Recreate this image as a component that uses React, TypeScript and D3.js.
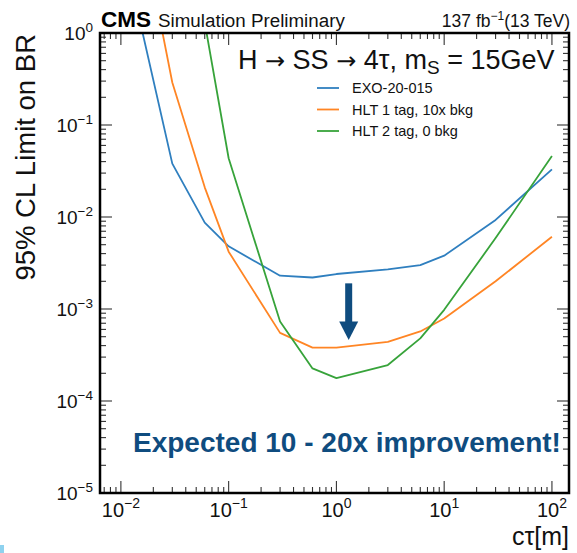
import * as d3 from "d3";
import { useEffect, useRef } from "react";

// c*tau points [m] and expected limits
const ctau = [0.01, 0.03, 0.06, 0.1, 0.3, 0.6, 1, 3, 6, 10, 30, 100];
const exo = [11, 0.038, 0.0087, 0.0048, 0.0023, 0.0022, 0.0024, 0.0027, 0.003, 0.0038, 0.0093, 0.033];
const hlt1 = [200, 0.29, 0.021, 0.0042, 0.00055, 0.00038, 0.00038, 0.00044, 0.00057, 0.00079, 0.002, 0.0061];
const hlt2 = [null, null, 1.3, 0.0435, 0.00073, 0.000226, 0.000177, 0.000246, 0.00048, 0.00098, 0.0059, 0.046];

const seriesNames = ["EXO-20-015", "HLT 1 tag, 10x bkg", "HLT 2 tag, 0 bkg"];
const seriesColors = ["#2f7fbf", "#ff8524", "#37a33a"];
const xExponents = [-2, -1, 0, 1, 2];
const yExponents = [0, -1, -2, -3, -4, -5];

// arrow annotation (ctau, BR)
const arrowAt = [1.3, 0.0019, 0.00046];

const W = 577;
const H = 553;
const margin = { top: 33, right: 8, bottom: 60, left: 100 };
const font = "'Liberation Sans', Arial, Helvetica, sans-serif";

const logTicks = (lo, hi) => {
	const out = [];
	for (let e = Math.floor(Math.log10(lo)); e <= Math.ceil(Math.log10(hi)); e++) {
		for (let k = 1; k <= 9; k++) {
			const v = k * Math.pow(10, e);
			if (v >= lo * 0.999 && v <= hi * 1.001) out.push({ v, major: k === 1 });
		}
	}
	return out;
};

const sup = (n) => (n < 0 ? "\u2212" + Math.abs(n) : String(n));

const App = () => {
	const chartRef = useRef(null);

	useEffect(() => {
		const svg = d3.select(chartRef.current);
		svg.selectAll("*").remove();

		const x = d3.scaleLog().domain([0.0064, 144]).range([margin.left, W - margin.right]);
		const y = d3.scaleLog().domain([1e-5, 1]).range([H - margin.bottom, margin.top]);
		const [x0, x1] = x.range();
		const [y0, y1] = y.range();

		svg.append("rect").attr("width", W).attr("height", H).attr("fill", "#fff");
		svg.append("rect").attr("x", 0).attr("y", 545).attr("width", 4).attr("height", 8).attr("fill", "#8ed2ef");

		svg.append("defs").append("clipPath").attr("id", "plotclip")
			.append("rect").attr("x", x0).attr("y", y1).attr("width", x1 - x0).attr("height", y0 - y1);

		// ticks
		const tg = svg.append("g").attr("stroke", "#333").attr("stroke-width", 1.1);
		logTicks(...x.domain()).forEach(t => {
			const px = x(t.v);
			const len = t.major ? 12 : 6;
			tg.append("line").attr("x1", px).attr("x2", px).attr("y1", y0).attr("y2", y0 - len);
			tg.append("line").attr("x1", px).attr("x2", px).attr("y1", y1).attr("y2", y1 + len);
		});
		logTicks(...y.domain()).forEach(t => {
			const py = y(t.v);
			const len = t.major ? 12 : 6;
			tg.append("line").attr("x1", x0).attr("x2", x0 + len).attr("y1", py).attr("y2", py);
			tg.append("line").attr("x1", x1).attr("x2", x1 - len).attr("y1", py).attr("y2", py);
		});

		// curves
		const line = d3.line()
			.defined(d => d[1] != null)
			.x(d => x(d[0]))
			.y(d => y(d[1]));
		const lines = svg.append("g").attr("clip-path", "url(#plotclip)");
		[exo, hlt1, hlt2].forEach((vals, i) => {
			lines.append("path")
				.datum(ctau.map((c, j) => [c, vals[j]]))
				.attr("d", line)
				.attr("fill", "none")
				.attr("stroke", seriesColors[i])
				.attr("stroke-width", 1.8)
				.attr("stroke-linejoin", "round");
		});

		// frame
		svg.append("rect")
			.attr("x", x0).attr("y", y1).attr("width", x1 - x0).attr("height", y0 - y1)
			.attr("fill", "none").attr("stroke", "#000").attr("stroke-width", 2.5);

		// tick labels
		xExponents.forEach(e => {
			const t = svg.append("text")
				.attr("x", x(Math.pow(10, e))).attr("y", 517)
				.attr("text-anchor", "middle")
				.style("font-family", font).style("font-size", "20px").attr("fill", "#111");
			t.append("tspan").text("10");
			t.append("tspan").attr("dy", -9).style("font-size", "14px").text(sup(e));
		});
		yExponents.forEach(e => {
			const t = svg.append("text")
				.attr("x", 93).attr("y", y(Math.pow(10, e)) + 6.7)
				.attr("text-anchor", "end")
				.style("font-family", font).style("font-size", "19px").attr("fill", "#111");
			t.append("tspan").text("10");
			t.append("tspan").attr("dy", -8).style("font-size", "13.5px").text(sup(e));
		});

		// axis titles
		svg.append("text")
			.attr("x", x1).attr("y", 545)
			.attr("text-anchor", "end")
			.style("font-family", font).style("font-size", "25px").attr("fill", "#111")
			.text("c\u03c4[m]");
		svg.append("text")
			.attr("transform", `translate(35, ${y1 + 1}) rotate(-90)`)
			.attr("text-anchor", "end")
			.style("font-family", font).style("font-size", "27.5px").attr("fill", "#111")
			.text("95% CL Limit on BR");

		// header
		svg.append("text")
			.attr("x", x0 + 1).attr("y", 27)
			.style("font-family", font).style("font-size", "22.5px").style("font-weight", "bold")
			.text("CMS");
		svg.append("text")
			.attr("x", 158).attr("y", 27)
			.style("font-family", font).style("font-size", "18.8px").attr("fill", "#111")
			.text("Simulation Preliminary");
		const lumi = svg.append("text")
			.attr("x", x1 + 1).attr("y", 27)
			.attr("text-anchor", "end")
			.style("font-family", font).style("font-size", "17.5px").attr("fill", "#111");
		lumi.append("tspan").text("137 fb");
		lumi.append("tspan").attr("dy", -7).style("font-size", "12px").text("\u22121");
		lumi.append("tspan").attr("dy", 7).text("(13 TeV)");

		// process title
		const title = svg.append("text")
			.attr("x", 238).attr("y", 68.5)
			.style("font-family", font).style("font-size", "27px").attr("fill", "#111");
		const arrowFont = "'DejaVu Sans', sans-serif";
		title.append("tspan").text("H ");
		title.append("tspan").style("font-family", arrowFont).style("font-size", "24px").text("\u2192");
		title.append("tspan").text(" SS ");
		title.append("tspan").style("font-family", arrowFont).style("font-size", "24px").text("\u2192");
		title.append("tspan").text(" 4\u03c4, m");
		title.append("tspan").attr("dy", 5).style("font-size", "19px").text("S");
		title.append("tspan").attr("dy", -5).text(" = 15GeV");

		// legend
		seriesNames.forEach((name, i) => {
			const ly = 88 + i * 21.5;
			svg.append("line")
				.attr("x1", 317).attr("x2", 339).attr("y1", ly).attr("y2", ly)
				.attr("stroke", seriesColors[i]).attr("stroke-width", 1.8);
			svg.append("text")
				.attr("x", 352).attr("y", ly + 5)
				.style("font-family", font).style("font-size", "14.5px").attr("fill", "#111")
				.text(name);
		});

		// arrow
		const ax = x(arrowAt[0]);
		const aTop = y(arrowAt[1]);
		const aTip = y(arrowAt[2]);
		const headH = 18.5;
		svg.append("rect")
			.attr("x", ax - 3.5).attr("y", aTop).attr("width", 7).attr("height", aTip - aTop - headH + 1)
			.attr("fill", "#0f4c7f");
		svg.append("path")
			.attr("d", `M${ax - 9.5},${aTip - headH} L${ax + 9.5},${aTip - headH} L${ax},${aTip} Z`)
			.attr("fill", "#0f4c7f");

		svg.append("text")
			.attr("x", 133).attr("y", 451.5)
			.style("font-family", font).style("font-size", "28px").style("font-weight", "bold")
			.attr("fill", "#0f4c7f")
			.text("Expected 10 - 20x improvement!");
	}, []);

	return (
		<svg ref={chartRef} width={W} height={H}
			style={{ position: "absolute", left: 0, top: 0, display: "block" }}></svg>
	);
};

export default App;
